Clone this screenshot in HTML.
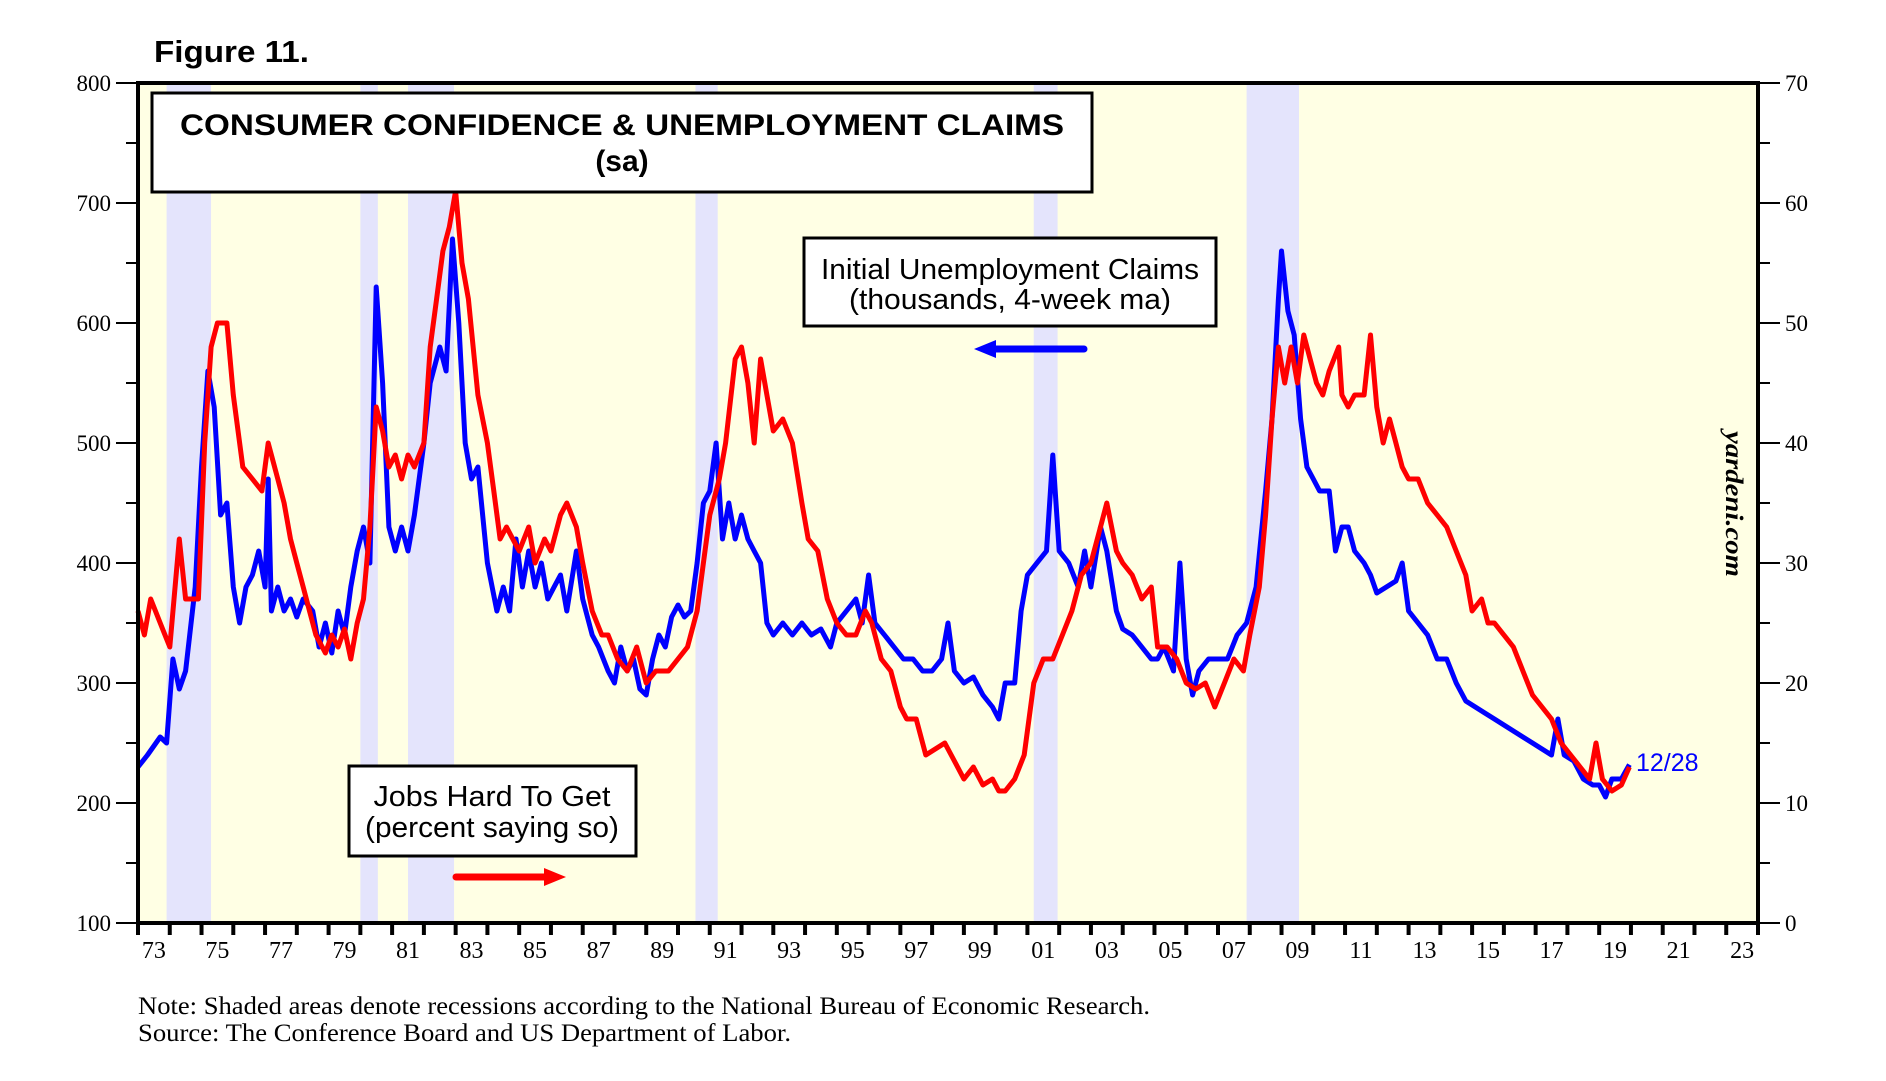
<!DOCTYPE html>
<html><head><meta charset="utf-8">
<style>
html,body{margin:0;padding:0;background:#fff;}
svg{display:block;}
</style></head>
<body>
<svg id="chart" width="1886" height="1081" viewBox="0 0 1886 1081" xmlns="http://www.w3.org/2000/svg">
  <text x="154" y="62" font-family="Liberation Sans, sans-serif" font-weight="bold" font-size="31" textLength="155" lengthAdjust="spacingAndGlyphs">Figure 11.</text>
  <rect x="138" y="83" width="1620" height="840" fill="#ffffe4"/>
  <g id="recessions"></g>
  <g id="axes"></g>
  <g id="series"></g>
  <rect x="138" y="83" width="1620" height="840" fill="none" stroke="#000" stroke-width="4"/>
  <g>
    <rect x="152" y="93" width="940" height="99" fill="#fff" stroke="#000" stroke-width="3"/>
    <text x="622" y="135" text-anchor="middle" font-family="Liberation Sans, sans-serif" font-weight="bold" font-size="30" textLength="884" lengthAdjust="spacingAndGlyphs">CONSUMER CONFIDENCE &amp; UNEMPLOYMENT CLAIMS</text>
    <text x="622" y="171" text-anchor="middle" font-family="Liberation Sans, sans-serif" font-weight="bold" font-size="30">(sa)</text>
  </g>
  <g>
    <rect x="804" y="238" width="412" height="88" fill="#fff" stroke="#000" stroke-width="3"/>
    <text x="1010" y="279" text-anchor="middle" font-family="Liberation Sans, sans-serif" font-size="29" textLength="378" lengthAdjust="spacingAndGlyphs">Initial Unemployment Claims</text>
    <text x="1010" y="309" text-anchor="middle" font-family="Liberation Sans, sans-serif" font-size="29" textLength="322" lengthAdjust="spacingAndGlyphs">(thousands, 4-week ma)</text>
  </g>
  <g>
    <line x1="1084" y1="349" x2="990" y2="349" stroke="#0000ff" stroke-width="7" stroke-linecap="round"/>
    <polygon points="974,349 996,340 996,358" fill="#0000ff"/>
  </g>
  <g>
    <rect x="349" y="766" width="287" height="90" fill="#fff" stroke="#000" stroke-width="3"/>
    <text x="492" y="806" text-anchor="middle" font-family="Liberation Sans, sans-serif" font-size="29" textLength="237" lengthAdjust="spacingAndGlyphs">Jobs Hard To Get</text>
    <text x="492" y="837" text-anchor="middle" font-family="Liberation Sans, sans-serif" font-size="29" textLength="254" lengthAdjust="spacingAndGlyphs">(percent saying so)</text>
  </g>
  <g>
    <line x1="456" y1="877" x2="548" y2="877" stroke="#ff0000" stroke-width="7" stroke-linecap="round"/>
    <polygon points="566,877 544,868 544,886" fill="#ff0000"/>
  </g>
  <text transform="translate(1726,504) rotate(90)" text-anchor="middle" font-family="Liberation Serif, serif" font-style="italic" font-weight="bold" font-size="25" textLength="146" lengthAdjust="spacingAndGlyphs">yardeni.com</text>
  <text x="1636" y="771" font-family="Liberation Sans, sans-serif" font-size="25" fill="#0000ff">12/28</text>
  <text x="138" y="1014" font-family="Liberation Serif, serif" font-size="25" textLength="1012" lengthAdjust="spacingAndGlyphs">Note: Shaded areas denote recessions according to the National Bureau of Economic Research.</text>
  <text x="138" y="1041" font-family="Liberation Serif, serif" font-size="25" textLength="653" lengthAdjust="spacingAndGlyphs">Source: The Conference Board and US Department of Labor.</text>
</svg>
<script>
const recessionStarts = [1973.9, 1980.0, 1981.5, 1990.55, 2001.2, 2007.9];
const recessionEnds   = [1975.3, 1980.55, 1982.95, 1991.25, 2001.95, 2009.55];
const leftTicks = [100,200,300,400,500,600,700,800];
const rightTicks = [0,10,20,30,40,50,60,70];
const yearLabels = ["73","75","77","79","81","83","85","87","89","91","93","95","97","99","01","03","05","07","09","11","13","15","17","19","21","23"];
const yearLabelValues = [1973,1975,1977,1979,1981,1983,1985,1987,1989,1991,1993,1995,1997,1999,2001,2003,2005,2007,2009,2011,2013,2015,2017,2019,2021,2023];

const claimsYears = [1973.0,1973.3,1973.7,1973.9,1974.1,1974.3,1974.5,1974.8,1975.0,1975.2,1975.4,1975.6,1975.8,1976.0,1976.2,1976.4,1976.6,1976.8,1977.0,1977.1,1977.2,1977.4,1977.6,1977.8,1978.0,1978.2,1978.5,1978.7,1978.9,1979.1,1979.3,1979.5,1979.7,1979.9,1980.1,1980.3,1980.5,1980.7,1980.9,1981.1,1981.3,1981.5,1981.7,1982.0,1982.2,1982.5,1982.7,1982.9,1983.1,1983.3,1983.5,1983.7,1984.0,1984.3,1984.5,1984.7,1984.9,1985.1,1985.3,1985.5,1985.7,1985.9,1986.1,1986.3,1986.5,1986.8,1987.0,1987.3,1987.5,1987.8,1988.0,1988.2,1988.4,1988.6,1988.8,1989.0,1989.2,1989.4,1989.6,1989.8,1990.0,1990.2,1990.4,1990.6,1990.8,1991.0,1991.2,1991.4,1991.6,1991.8,1992.0,1992.2,1992.4,1992.6,1992.8,1993.0,1993.3,1993.6,1993.9,1994.2,1994.5,1994.8,1995.0,1995.3,1995.6,1995.8,1996.0,1996.2,1996.5,1996.8,1997.1,1997.4,1997.7,1998.0,1998.3,1998.5,1998.7,1999.0,1999.3,1999.6,1999.9,2000.1,2000.3,2000.6,2000.8,2001.0,2001.3,2001.6,2001.8,2002.0,2002.3,2002.6,2002.8,2003.0,2003.3,2003.5,2003.8,2004.0,2004.3,2004.6,2004.9,2005.1,2005.3,2005.6,2005.8,2006.0,2006.2,2006.4,2006.7,2007.0,2007.3,2007.6,2007.9,2008.2,2008.5,2008.7,2008.9,2009.0,2009.2,2009.4,2009.6,2009.8,2010.0,2010.2,2010.5,2010.7,2010.9,2011.1,2011.3,2011.6,2011.8,2012.0,2012.3,2012.6,2012.8,2013.0,2013.3,2013.6,2013.9,2014.2,2014.5,2014.8,2015.1,2015.4,2015.7,2016.0,2016.3,2016.6,2016.9,2017.2,2017.5,2017.7,2017.9,2018.2,2018.5,2018.8,2019.0,2019.2,2019.4,2019.7,2019.95];
const claimsValues = [230,240,255,250,320,295,310,380,480,560,530,440,450,380,350,380,390,410,380,470,360,380,360,370,355,370,360,330,350,325,360,340,380,410,430,400,630,550,430,410,430,410,440,500,550,580,560,670,600,500,470,480,400,360,380,360,420,380,410,380,400,370,380,390,360,410,370,340,330,310,300,330,310,320,295,290,320,340,330,355,365,355,360,400,450,460,500,420,450,420,440,420,410,400,350,340,350,340,350,340,345,330,350,360,370,350,390,350,340,330,320,320,310,310,320,350,310,300,305,290,280,270,300,300,360,390,400,410,490,410,400,380,410,380,430,410,360,345,340,330,320,320,330,310,400,320,290,310,320,320,320,340,350,380,460,520,620,660,610,590,520,480,470,460,460,410,430,430,410,400,390,375,380,385,400,360,350,340,320,320,300,285,280,275,270,265,260,255,250,245,240,270,240,235,220,215,215,205,220,220,232];

const jobsYears = [1973.0,1973.2,1973.4,1973.7,1974.0,1974.3,1974.5,1974.9,1975.1,1975.3,1975.5,1975.8,1976.0,1976.3,1976.6,1976.9,1977.1,1977.4,1977.6,1977.8,1978.0,1978.2,1978.4,1978.6,1978.9,1979.1,1979.3,1979.5,1979.7,1979.9,1980.1,1980.3,1980.5,1980.7,1980.9,1981.1,1981.3,1981.5,1981.7,1982.0,1982.2,1982.4,1982.6,1982.8,1983.0,1983.2,1983.4,1983.7,1984.0,1984.2,1984.4,1984.6,1984.8,1985.0,1985.3,1985.5,1985.8,1986.0,1986.3,1986.5,1986.8,1987.0,1987.3,1987.6,1987.8,1988.1,1988.4,1988.7,1989.0,1989.3,1989.7,1990.0,1990.3,1990.6,1990.8,1991.0,1991.3,1991.5,1991.8,1992.0,1992.2,1992.4,1992.6,1992.8,1993.0,1993.3,1993.6,1993.9,1994.1,1994.4,1994.7,1995.0,1995.3,1995.6,1995.9,1996.1,1996.4,1996.7,1997.0,1997.2,1997.5,1997.8,1998.1,1998.4,1998.7,1999.0,1999.3,1999.6,1999.9,2000.1,2000.3,2000.6,2000.9,2001.2,2001.5,2001.8,2002.1,2002.4,2002.7,2003.0,2003.3,2003.5,2003.8,2004.0,2004.3,2004.6,2004.9,2005.1,2005.4,2005.7,2006.0,2006.3,2006.6,2006.9,2007.2,2007.5,2007.8,2008.0,2008.3,2008.5,2008.7,2008.9,2009.1,2009.3,2009.5,2009.7,2009.9,2010.1,2010.3,2010.5,2010.8,2010.9,2011.1,2011.3,2011.6,2011.8,2012.0,2012.2,2012.4,2012.6,2012.8,2013.0,2013.3,2013.6,2013.9,2014.2,2014.5,2014.8,2015.0,2015.3,2015.5,2015.7,2016.0,2016.3,2016.6,2016.9,2017.2,2017.5,2017.8,2018.1,2018.4,2018.7,2018.9,2019.1,2019.4,2019.7,2019.95];
const jobsValues = [26,24,27,25,23,32,27,27,40,48,50,50,44,38,37,36,40,37,35,32,30,28,26,24,22.5,24,23,24.5,22,25,27,33,43,41,38,39,37,39,38,40,48,52,56,58,61,55,52,44,40,36,32,33,32,31,33,30,32,31,34,35,33,30,26,24,24,22,21,23,20,21,21,22,23,26,30,34,37,40,47,48,45,40,47,44,41,42,40,35,32,31,27,25,24,24,26,25,22,21,18,17,17,14,14.5,15,13.5,12,13,11.5,12,11,11,12,14,20,22,22,24,26,29,30,33,35,31,30,29,27,28,23,23,22,20,19.5,20,18,20,22,21,24,28,34,42,48,45,48,45,49,47,45,44,46,48,44,43,44,44,49,43,40,42,40,38,37,37,35,34,33,31,29,26,27,25,25,24,23,21,19,18,17,15,14,13,12,15,12,11,11.5,13];

const X0=138, X1=1758, Y0=923, Y1=83;
function xScale(yr){ return X0 + (yr-1973)/(2024-1973)*(X1-X0); }
function yLeft(v){ return Y0 - (v-100)/700*(Y0-Y1); }
function yRight(v){ return Y0 - v/70*(Y0-Y1); }
const NS='http://www.w3.org/2000/svg';
function mk(tag, attrs, parent){ const e=document.createElementNS(NS,tag); for(const k in attrs) e.setAttribute(k,attrs[k]); parent.appendChild(e); return e; }

const rec=document.getElementById('recessions');
for(let i=0;i<recessionStarts.length;i++){
  const r=mk('rect',{x:xScale(recessionStarts[i]),y:Y1,width:xScale(recessionEnds[i])-xScale(recessionStarts[i]),height:Y0-Y1,fill:'#e4e4fc'},rec);
  
  
}

const ax=document.getElementById('axes');
for(let v=100; v<=800; v+=50){
  const major = v%100===0;
  const t=mk('line',{x1:major?116:126,x2:X0,y1:yLeft(v),y2:yLeft(v),stroke:'#000','stroke-width':2},ax);
  
  
}
leftTicks.forEach(v=>{
  const t=mk('text',{x:111,y:yLeft(v)+8,'text-anchor':'end','font-family':'Liberation Serif, serif','font-size':23},ax);
  t.textContent=v;
  
  
});
for(let v=0; v<=70; v+=5){
  const major = v%10===0;
  const t=mk('line',{x1:X1,x2:major?1780:1770,y1:yRight(v),y2:yRight(v),stroke:'#000','stroke-width':2},ax);
  
  
}
rightTicks.forEach(v=>{
  const t=mk('text',{x:1785,y:yRight(v)+8,'font-family':'Liberation Serif, serif','font-size':23},ax);
  t.textContent=v;
  
  
});
for(let yr=1973; yr<=2024; yr++){
  const t=mk('line',{x1:xScale(yr),x2:xScale(yr),y1:Y0,y2:Y0+12,stroke:'#000','stroke-width':4},ax);
  
  
}
yearLabels.forEach((lab,i)=>{
  const t=mk('text',{x:xScale(yearLabelValues[i]+0.5),y:958,'text-anchor':'middle','font-family':'Liberation Serif, serif','font-size':24},ax);
  t.textContent=lab;
  
  
});

const sg=document.getElementById('series');
const pb=claimsYears.map((y,i)=>xScale(y).toFixed(1)+','+yLeft(claimsValues[i]).toFixed(1)).join(' ');
const pr=jobsYears.map((y,i)=>xScale(y).toFixed(1)+','+yRight(jobsValues[i]).toFixed(1)).join(' ');
const lb=mk('polyline',{points:pb,fill:'none',stroke:'#0000ff','stroke-width':5,'stroke-linejoin':'round'},sg);


const lr=mk('polyline',{points:pr,fill:'none',stroke:'#ff0000','stroke-width':5,'stroke-linejoin':'round'},sg);


</script>
</body></html>
